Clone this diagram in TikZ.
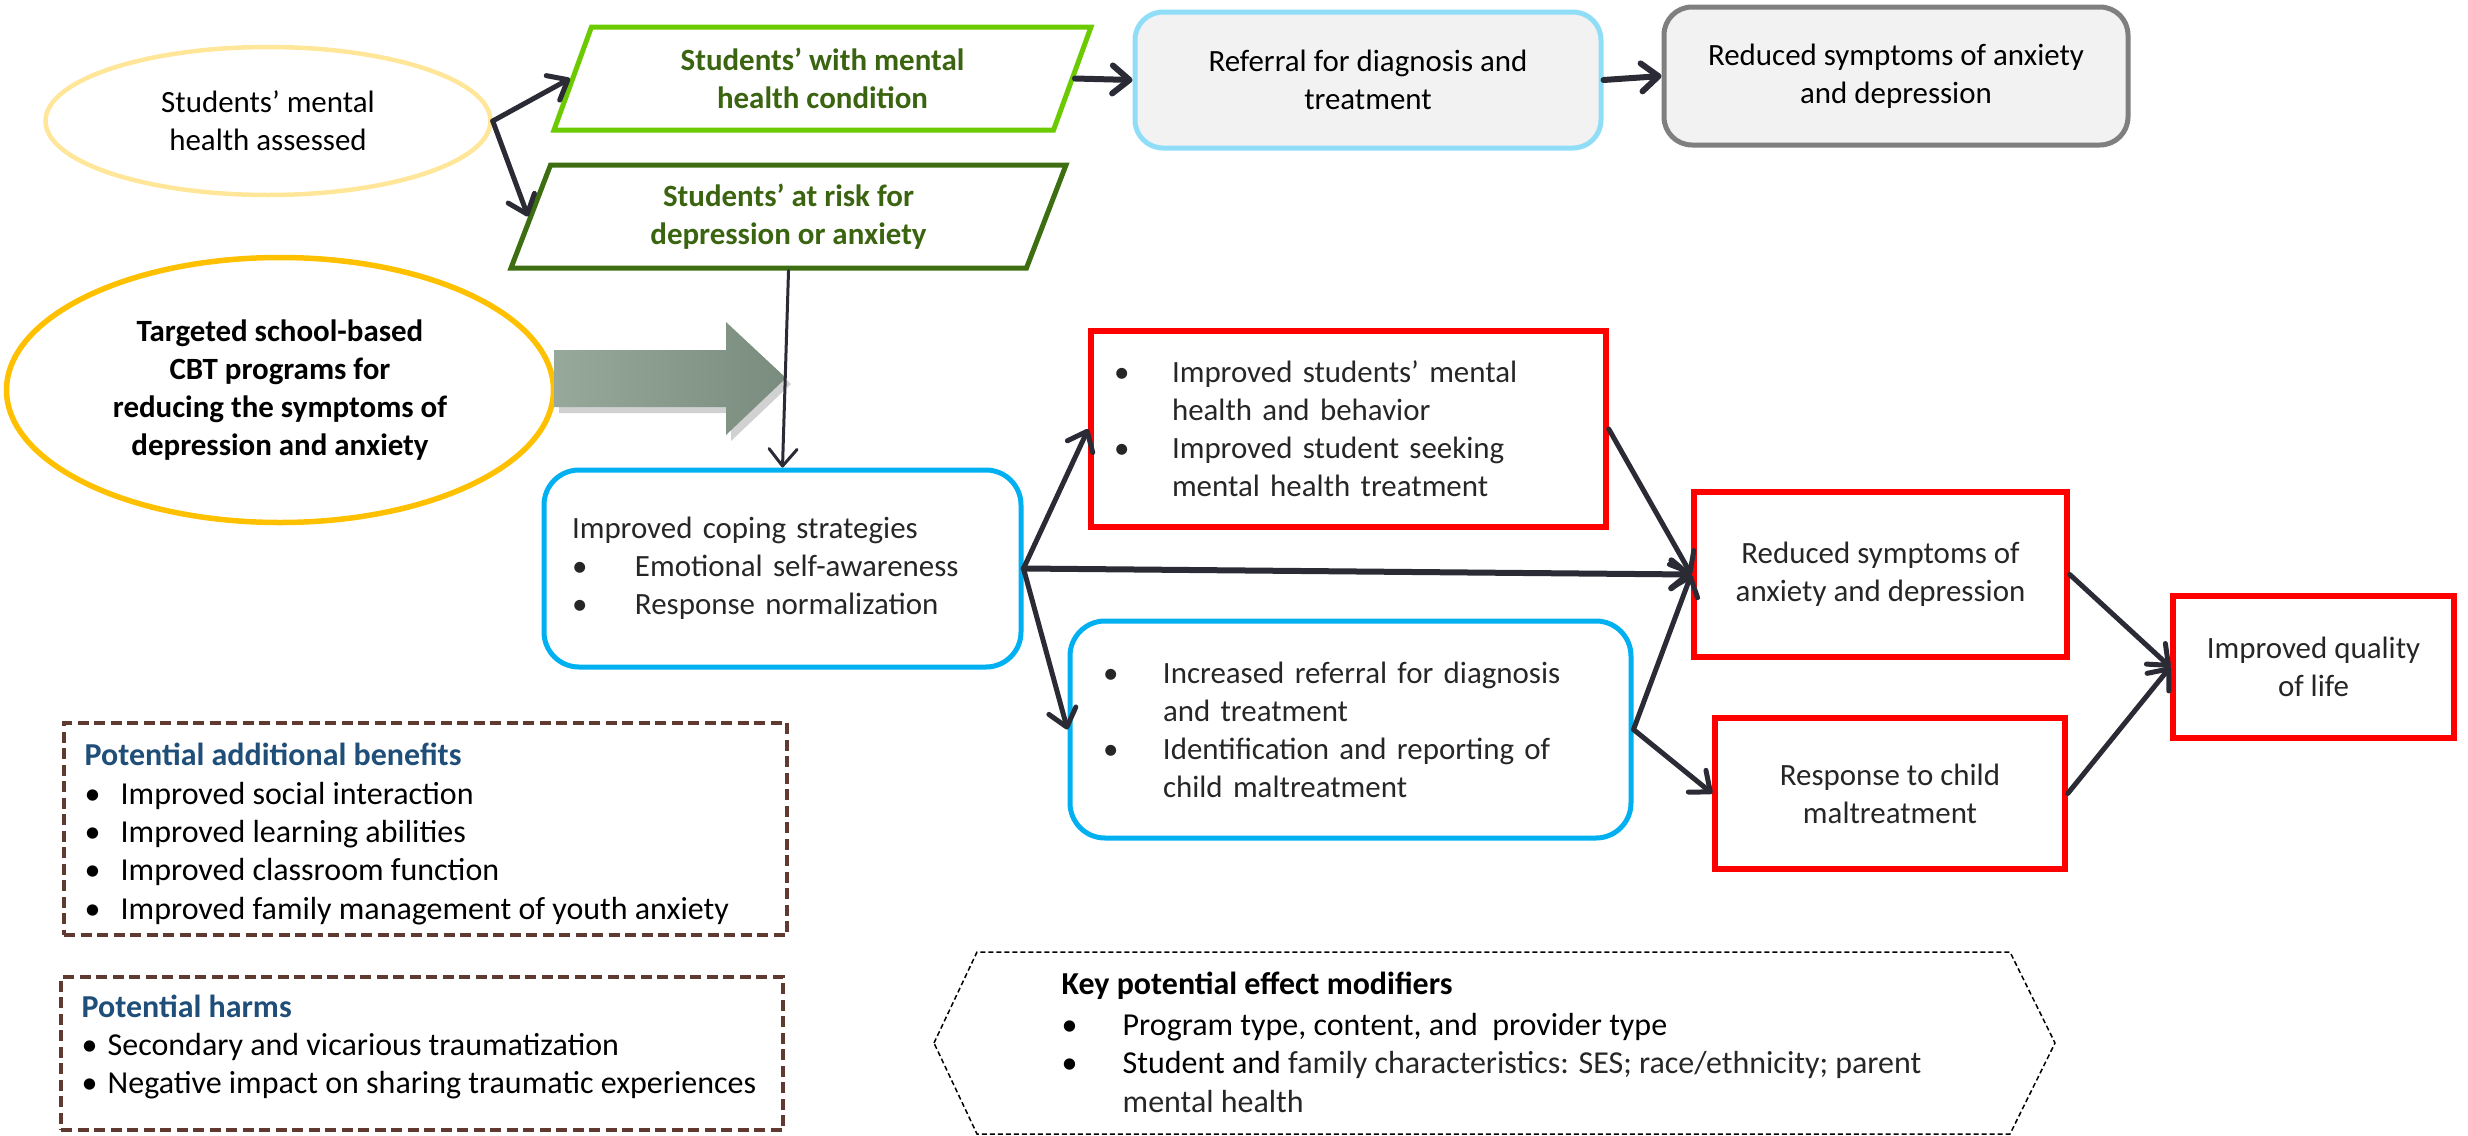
\documentclass[tikz,border=0pt]{standalone}
\usepackage{fontspec}
\setmainfont{Carlito}
\usetikzlibrary{arrows.meta,shapes.geometric}
\definecolor{ylw}{HTML}{FFE699}
\definecolor{gold}{HTML}{FFC000}
\definecolor{lgreen}{HTML}{6CCB00}
\definecolor{dgreen}{HTML}{3E6E12}
\definecolor{gtext}{HTML}{3B6410}
\definecolor{skyb}{HTML}{8FDDF7}
\definecolor{cblue}{HTML}{00B0F0}
\definecolor{cred}{HTML}{FF0000}
\definecolor{gbord}{HTML}{7F7F7F}
\definecolor{gfill}{HTML}{F2F2F2}
\definecolor{brown}{HTML}{603A30}
\definecolor{navy}{HTML}{1F4E79}
\definecolor{arrc}{HTML}{2B2B36}
\definecolor{txt}{HTML}{262626}
\definecolor{ag1}{HTML}{97A99B}
\definecolor{ag2}{HTML}{7A8C7E}
\newcommand\myfs{\fontsize{8.8pt}{10.8pt}\selectfont}
\newcommand\myfsb{\fontsize{9.1pt}{10.9pt}\selectfont}
\newcommand\mybul[1]{\makebox[#1][l]{\textbullet}}
\begin{document}
\begin{tikzpicture}[x=0.1mm,y=-0.1mm,
  every node/.style={font=\myfs, text=txt},
  arr/.style={draw=arrc, line width=0.5mm, line cap=round,
    -{Straight Barb[length=1.7mm,width=2.8mm,round]}},
  para/.style={trapezium, trapezium left angle=66, trapezium right angle=114,
    trapezium stretches body, line width=0.5mm, align=center, text=gtext,
    font=\myfs\bfseries},
  topbox/.style={rectangle, rounded corners=2.8mm, fill=gfill, line width=0.5mm, align=center, text=black},
  bluebox/.style={rectangle, rounded corners=3.5mm, draw=cblue, line width=0.5mm, align=left},
  redbox/.style={rectangle, draw=cred, line width=0.55mm, align=center},
  dashbox/.style={rectangle, draw=brown, line width=0.45mm, dash pattern=on 1.1mm off 0.55mm},
  hexs/.style={draw=black, line width=0.15mm, dash pattern=on 0.5mm off 0.3mm},
  listtxt/.style={anchor=west, align=left, inner sep=0pt, text=black, font=\myfsb}
]
\useasboundingbox (0,0) rectangle (2468,1136);

% ellipses
\node[ellipse, draw=ylw, line width=0.45mm, minimum width=44.5mm, minimum height=14.8mm,
  align=center, text=black] (e1) at (268,121) {Students’ mental\\health assessed};
\node[ellipse, draw=gold, line width=0.55mm, minimum width=54.7mm, minimum height=26.5mm,
  align=center, text=black, font=\myfs\bfseries] (e2) at (280,390)
  {Targeted school-based\\CBT programs for\\reducing the symptoms of\\depression and anxiety};

% parallelograms
\node[para, draw=lgreen, minimum width=53.7mm, minimum height=10.3mm] (p1) at (822.5,78.5)
  {Students’ with mental\\health condition};
\node[para, draw=dgreen, minimum width=55.5mm, minimum height=10.3mm] (p2) at (788.5,216.5)
  {Students’ at risk for\\depression or anxiety};

% top boxes
\node[topbox, draw=skyb, minimum width=46.6mm, minimum height=13.6mm] (r1) at (1368,80)
  {Referral for diagnosis and\\treatment};
\node[topbox, draw=gbord, minimum width=46.4mm, minimum height=13.8mm] (g1) at (1896,76)
  {Reduced symptoms of anxiety\\and depression};

% block arrow
\fill[black, opacity=0.18] (559,356) -- (731,356) -- (731,328) -- (791,384) -- (731,441) -- (731,413) -- (559,413) -- cycle;
\shade[left color=ag1, right color=ag2] (554,350) -- (726,350) -- (726,322) -- (786,378)
  -- (726,435) -- (726,407) -- (554,407) -- cycle;

% coping box
\node[bluebox, minimum width=47.7mm, minimum height=19.7mm, inner xsep=2.8mm, text width=42.1mm]
  (cp) at (782.5,568.5)
  {Improved coping strategies\\
   \mybul{6.3mm}Emotional self-awareness\\
   \mybul{6.3mm}Response normalization};

% red boxes
\node[redbox, align=left, minimum width=51.5mm, minimum height=19.6mm, inner xsep=2.7mm,
  text width=46.1mm] (rb1) at (1348.5,429)
  {\hspace*{-0.4mm}\mybul{5.8mm}Improved students’ mental\\
   \hspace*{5.4mm}health and behavior\\
   \hspace*{-0.4mm}\mybul{5.8mm}Improved student seeking\\
   \hspace*{5.4mm}mental health treatment};
\node[redbox, minimum width=37.3mm, minimum height=16.5mm] (rb2) at (1880.5,574.5)
  {Reduced symptoms of\\anxiety and depression};
\node[redbox, minimum width=28.1mm, minimum height=14.2mm] (rb3) at (2313.5,667)
  {Improved quality\\of life};
\node[redbox, minimum width=35mm, minimum height=15.1mm] (rb4) at (1890,793.5)
  {Response to child\\maltreatment};

% blue box 2
\node[bluebox, minimum width=56.1mm, minimum height=21.7mm, inner xsep=3.9mm, text width=48.3mm]
  (bb2) at (1350.5,729.5)
  {\hspace*{-0.6mm}\mybul{6.0mm}Increased referral for diagnosis\\
   \hspace*{5.4mm}and treatment\\
   \hspace*{-0.6mm}\mybul{6.0mm}Identification and reporting of\\
   \hspace*{5.4mm}child maltreatment};

% benefits and harms
\node[dashbox, minimum width=72.3mm, minimum height=21.2mm] (bf) at (425.5,829) {};
\node[listtxt] (bft) at (84,834)
  {{\color{navy}\bfseries Potential additional benefits}\\
   \mybul{3.6mm}Improved social interaction\\
   \mybul{3.6mm}Improved learning abilities\\
   \mybul{3.6mm}Improved classroom function\\
   \mybul{3.6mm}Improved family management of youth anxiety};
\node[dashbox, minimum width=72.2mm, minimum height=15.3mm] (hm) at (422,1053.5) {};
\node[listtxt] (hmt) at (81,1047)
  {{\color{navy}\bfseries Potential harms}\\
   \mybul{2.6mm}Secondary and vicarious traumatization\\
   \mybul{2.6mm}Negative impact on sharing traumatic experiences};

% effect modifiers hexagon
\draw[hexs] (934,1043) -- (977,952) -- (2010,952) -- (2055,1043) -- (2010,1134) -- (977,1134) -- cycle;
\node[listtxt] (modt) at (1061,1042)
  {\textbf{Key potential effect modifiers}\\[0.3mm]
   \mybul{6.1mm}Program type, content, and\ \ provider type\\
   \mybul{6.1mm}Student and {\color{txt}family characteristics: SES; race/ethnicity; parent}\\
   \hspace*{6.1mm}{\color{txt}mental health}};

% connectors
\draw[arr] (e1.east) -- (p1.west);
\draw[arr] (e1.east) -- (p2.west);
\draw[arr, line width=0.6mm] (p1.east) -- (r1.west);
\draw[arr, line width=0.6mm] (r1.east) -- (g1.west);
\draw[arr, line width=0.3mm] (p2.south) -- (cp.north);
\draw[arr] (cp.east) -- (rb1.west);
\draw[arr, line width=0.6mm] (cp.east) -- (rb2.west);
\draw[arr] (cp.east) -- (bb2.west);
\draw[arr] (rb1.east) -- (rb2.west);
\draw[arr] (bb2.east) -- (rb2.west);
\draw[arr] (bb2.east) -- (rb4.west);
\draw[arr] (rb2.east) -- (rb3.west);
\draw[arr] (rb4.east) -- (rb3.west);
\end{tikzpicture}
\end{document}
